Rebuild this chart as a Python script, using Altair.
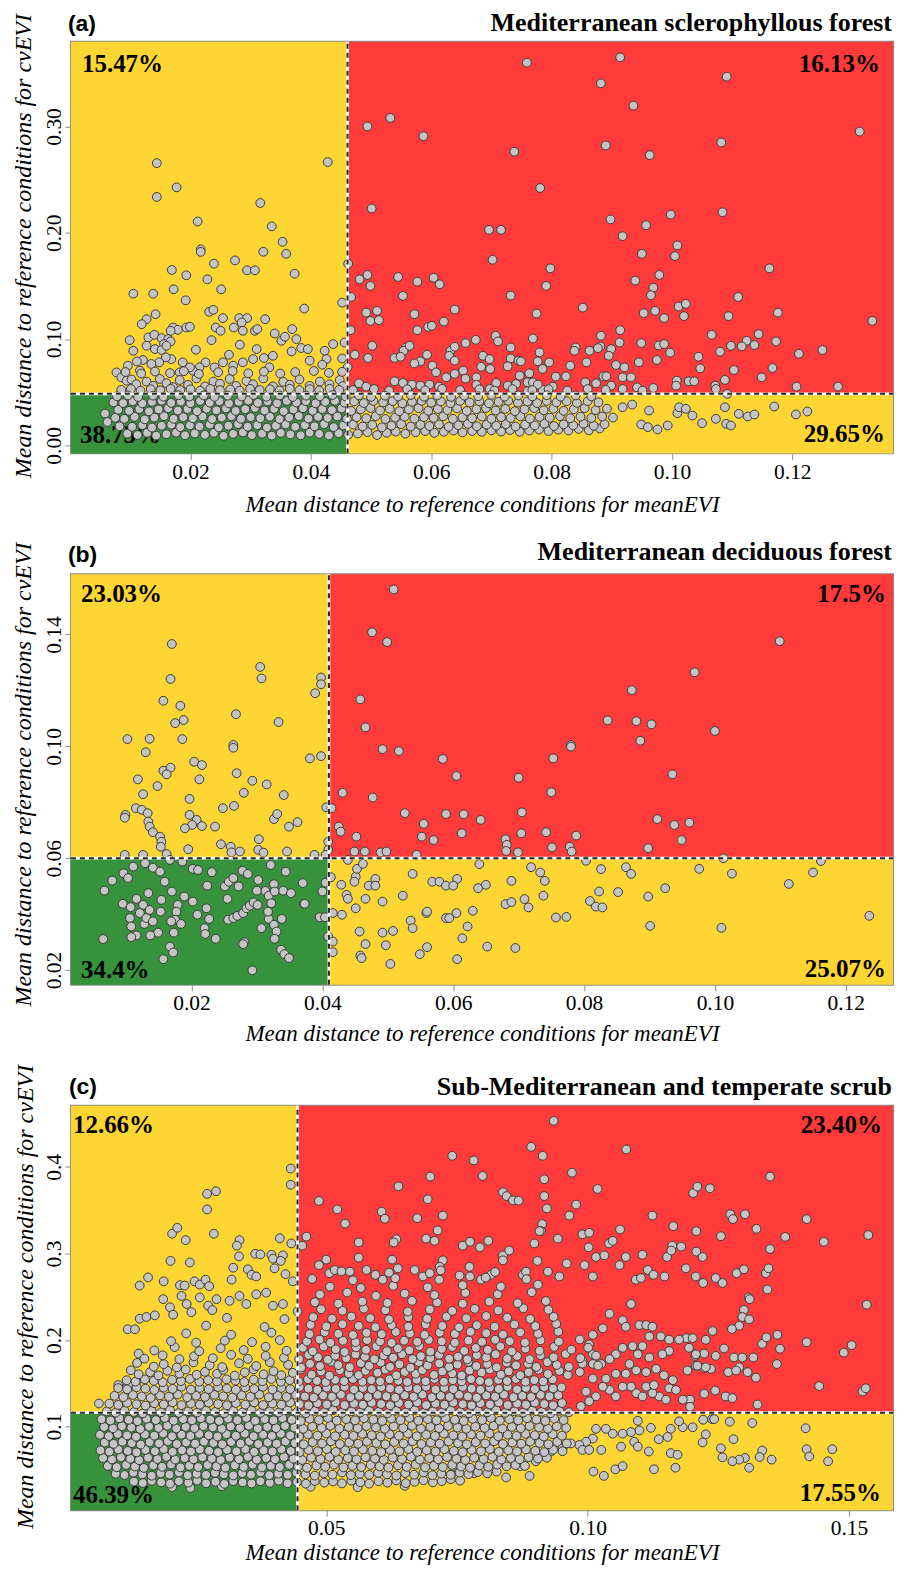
import altair as alt
import pandas as pd

UNIT = 1e-4  # every point below is stored as (x, y) in units of 0.0001

# ---------------- panel (a) ----------------
A_UPPER_RIGHT = [
(494,3000),(532,3080),(587,2908),(501,2228),(759,3600),(914,3650),(882,3405),(1091,3468),(936,3196),(1312,2952),(738,2762),(890,2821),(963,2730),(1082,2849),(781,2421),(898,2125),(957,2071),(998,2171),(1084,2193),(696,2027),(716,2027),(918,1968),(1009,1881),(1005,1780),(950,1802),(702,1746),(798,1665),(979,1603),(939,1550),(1162,1665),(791,1500),(969,1484),(965,1412),(732,1409),(1110,1396),(639,1278),(852,1296),(775,1240),(953,1244),(972,1265),(987,1197),(1011,1306),(1023,1331),(1020,1216),(1094,1216),(1176,1249),(1333,1171),(914,1084),(882,1031),(707,1031),(711,978),(674,993),(657,962),(769,1006),(1066,1040),(1144,1047),(1173,978),(1124,984),(1137,944),(1116,931),(1098,937),(1080,881),(1211,862),(1250,897),(1207,553),(1276,553),(1167,728),(1149,640),(1103,709),(1088,616),(1044,834),(1047,725),(997,872),(975,803),(945,781),(949,962),(978,940),(987,953),(913,968),(899,906),(895,843),(881,931),(877,915),(863,890),(858,781),(840,921),(838,890),(831,750),(824,650),(907,756),(921,734),(918,640),(932,640),(886,650),(891,650),(874,584),(856,593),(899,562),(918,531),(942,546),(969,540),(951,515),(1008,609),(1007,562),(1028,603),(1037,603),(1072,562),(1073,531),(1092,484),
(462,1709),(481,1562),(494,1603),(499,1500),(467,1396),(545,1584),(553,1406),(577,1540),(604,1577),(614,1515),(492,1249),(510,1265),(499,1171),(513,1178),(466,1084),(502,937),(495,822),(473,853),(572,1234),(577,1084),(595,1115),(601,1125),(621,1165),(558,921),(554,890),(564,937),(539,822),(549,834),(593,853),(582,790),(572,771),(602,750),(608,687),(632,890),(625,640),(480,584),(492,553),(539,603),(553,588),(568,572),(582,562),(597,572),(613,553),
(639,928),(630,843),(639,797),(653,703),(657,628),(639,672),(675,640),(675,569),(686,843),(697,812),(683,740),(698,719),(732,921),(732,818),(727,744),(745,797),(749,790),(747,656),(763,678),(760,593),(769,593),(780,874),(777,790),(785,719),(796,781),(807,647),(802,553),(727,562),(741,578),(708,588),(697,531),(760,509),(785,522),(777,572),
(470,520),(505,530),(530,515),(560,528),(590,518),(618,532),(648,520),(680,527),(705,515),(735,530),(768,520),(795,528),(826,516),(860,530),(890,522),
]
A_LOWER_RIGHT = [
(918,359),(934,384),(949,197),(960,172),(962,328),(976,150),(993,187),(1009,303),(1012,359),(1023,344),(1034,281),(1050,209),(1073,250),(1088,359),(1090,203),(1098,187),(1111,297),(1126,272),(1137,291),(1170,366),(1206,291),(1225,319),
]
A_UPPER_LEFT = [
(144,2655),(177,2427),(144,2337),(212,2106),(316,2280),(335,2060),(428,2665),(452,1343),
(217,1843),(217,1820),(274,1740),(239,1709),(321,1821),(353,1915),(359,1802),(294,1647),(307,1647),(169,1650),(193,1600),(228,1562),(373,1615),(172,1468),(251,1468),(105,1427),(138,1427),(192,1365),(231,1256),(238,1275),(142,1234),(127,1187),(119,1140),(254,1197),(281,1197),(294,1197),(285,1156),(324,1187),(389,1287),(242,1109),(250,1078),(272,1109),(287,1078),(307,1078),(311,1094),(171,1109),(179,1087),(167,1078),(193,1109),(199,1115),(369,1094),(235,990),(340,1053),(351,984),(357,1022),(376,1000),(99,990),(130,1015),(140,1040),(152,1009),(163,1000),(167,978),(156,953),(105,890),(127,937),(141,906),(152,897),(160,937),(209,900),(282,947),(310,906),(368,884),(384,916),(395,906),(423,890),(437,953),(426,812),(456,968),(452,818),(461,734),(419,759),(398,797),(337,843),(322,822),(331,734),(304,812),(287,781),(271,750),(264,853),(254,781),(240,734),(225,781),(215,734),(204,703),(187,781),(199,734),(182,687),(168,812),(159,828),(148,781),(135,766),(121,803),(111,790),(116,703),(96,750),(77,687),(85,640),(94,609),
(102,620),(110,575),(127,600),(138,560),(149,625),(160,585),(171,548),(182,615),(196,570),(210,630),(224,555),(238,600),(249,580),(265,625),(276,560),(293,605),(304,575),(321,630),(337,556),(354,598),(365,570),(381,620),(398,560),(415,600),(431,575),(448,615),(453,558),
(85,522),(101,530),(117,515),(134,528),(150,518),(167,532),(183,520),(200,527),(216,514),(233,531),(249,519),(266,526),(282,515),(299,532),(315,521),(332,528),(348,516),(365,533),(381,520),(398,529),(414,517),(431,532),(447,522),
(92,690),(118,676),(141,695),(166,680),(189,698),(214,672),(246,688),(270,700),(296,678),(322,694),(349,676),(374,690),(405,700),(430,682),(452,692),
]
A_BAND = [
(58,300),(62,220),
(95,110),(112,98),(128,118),(143,92),(160,105),(176,120),(191,95),(207,112),(224,100),(239,118),(255,90),(271,108),(287,122),(302,96),(319,110),(335,92),(350,117),(366,103),(383,95),(398,120),(414,108),(430,93),(446,115),(462,100),(478,112),(494,125),(510,98),(526,118),(541,130),(557,110),(574,124),(590,135),(605,118),(621,128),(637,140),(652,122),(668,135),(684,128),(700,142),(716,130),(731,145),(747,128),(763,140),(779,150),(795,135),(811,148),(828,140),(845,155),(862,142),(880,160),
(82,180),(103,175),(120,190),(136,168),(152,185),(168,195),(183,172),(199,188),(215,178),(232,196),(247,170),(263,185),(279,200),(295,176),(311,190),(327,168),(342,185),(358,198),(374,175),(390,190),(406,180),(422,200),(438,172),(454,188),(470,195),(486,178),(502,192),(518,170),(534,186),(550,200),(566,178),(582,195),(597,182),(613,198),(629,175),(645,190),(661,202),(676,180),(692,196),(708,185),(724,200),(740,178),(756,195),(772,188),(788,205),(804,182),(820,198),(836,190),(853,205),(870,185),(888,200),
(75,260),(90,250),(107,268),(124,245),(140,262),(156,275),(172,250),(188,265),(204,255),(220,272),(236,248),(252,262),(268,275),(284,250),(300,266),(316,255),(332,270),(348,248),(364,262),(380,276),(396,252),(412,268),(428,258),(444,272),(460,250),(476,265),(492,255),(508,275),(524,248),(540,262),(556,270),(572,252),(588,266),(604,258),(620,274),(636,250),(652,265),(668,256),(684,272),(700,250),(716,266),(732,258),(748,274),(764,252),(780,268),(797,260),(814,275),(831,255),(848,270),(866,258),(884,272),(902,262),
(80,335),(98,325),(115,342),(131,320),(147,338),(163,350),(179,328),(195,342),(211,322),(227,345),(243,330),(259,348),(275,325),(291,340),(307,352),(323,328),(339,344),(355,322),(371,338),(387,350),(403,326),(419,342),(435,332),(451,348),(467,324),(483,340),(499,352),(515,328),(531,344),(547,322),(563,338),(579,350),(595,326),(611,342),(627,332),(643,348),(659,324),(675,340),(691,352),(707,328),(723,344),(739,322),(755,338),(771,350),(787,330),(803,345),(820,325),(837,340),(855,350),(873,332),(892,345),
(72,405),(88,398),(104,415),(120,395),(136,410),(152,420),(168,400),(184,412),(200,396),(216,418),(232,402),(248,415),(264,395),(280,410),(296,422),(312,400),(328,414),(344,396),(360,418),(376,404),(392,416),(408,396),(424,410),(440,420),(456,402),(472,414),(488,398),(504,418),(520,404),(536,416),(552,396),(568,410),(584,420),(600,402),(616,414),(632,398),(648,418),(664,404),(680,416),(696,396),(712,410),(728,420),(744,402),(760,414),(776,398),(792,418),(808,404),(825,415),(842,400),(860,416),(878,405),
(78,462),(96,470),(113,455),(138,468),(155,458),(180,472),(198,460),(222,470),(240,456),(262,468),(285,460),(305,474),(326,458),(348,470),(370,456),(392,468),(415,462),(436,474),(458,460),(480,470),(500,456),(523,468),(545,460),(566,474),(588,458),(610,470),(633,456),(655,468),(678,462),(700,474),(722,458),(745,470),(768,460),(792,472),(815,458),(840,470),(866,462),
]

# ---------------- panel (b) ----------------
B_UPPER = [
(509,1561),(476,1408),(499,1373),(170,1366),(305,1284),(307,1243),(168,1241),(398,1246),(398,1222),(389,1190),(157,1163),(183,1145),(458,1168),(268,1115),(188,1094),(175,1083),(333,1087),(466,1068),(102,1026),(136,1027),(186,1026),(264,1005),
(1099,1376),(969,1265),(873,1201),(836,1093),(880,1090),(903,1079),(1000,1055),(886,1020),(780,1005),
(130,979),(264,995),(381,957),(398,965),(204,945),(216,933),(157,913),(168,924),(162,900),(118,882),(212,882),(269,904),(293,877),(315,864),(148,858),(126,829),(280,834),(341,826),(197,812),(431,834),(477,817),(115,779),(124,773),(133,761),(99,755),(98,745),(134,731),(136,713),(141,693),(152,677),(154,659),(153,641),(197,755),(208,737),(201,719),(190,707),(216,715),(248,779),(265,787),(236,713),(326,740),(331,758),(349,713),(362,729),(406,782),(414,779),(425,713),(428,695),(452,677),(526,761),(555,723),(552,677),(570,665),(589,758),(409,659),(409,630),(245,650),(260,641),(274,624),(261,621),(303,668),(302,630),(310,620),(346,624),(195,632),(98,612),(126,612),(162,615),(388,612),(405,612),(439,594),(449,624),(465,624),(489,621),(498,624),(544,612),
(492,990),(517,983),(584,955),
(780,999),(753,957),(605,894),(700,888),(935,900),(750,836),(616,757),(642,737),(705,764),(912,740),(938,719),(961,727),(613,689),(704,689),(742,693),(788,681),(680,668),(682,648),(681,626),(699,621),(751,639),(778,641),(781,624),(949,665),(898,636),(1013,600),(1162,590),(803,591),
]
B_LOWER = [
(111,570),(96,546),(103,529),(79,520),(67,484),(129,582),(141,566),(152,552),(159,516),(170,481),(167,594),(186,588),(202,562),(210,558),(231,550),(224,502),(251,499),(257,516),(264,529),(272,499),(278,555),(286,544),(302,522),(300,484),(321,576),(344,552),(340,484),(352,475),(370,511),(372,437),(400,481),(405,513),(326,507),(313,483),(318,466),(322,439),(327,481),
(95,437),(107,425),(116,455),(126,433),(134,475),(121,404),(106,386),(108,356),(116,324),(108,318),(128,365),(131,386),(136,415),(141,374),(149,334),(137,324),(153,409),(154,451),(179,433),(177,409),(175,380),(169,374),(173,334),(184,365),(189,463),(202,445),(209,398),(223,421),(227,383),(220,350),(221,329),(237,312),(255,455),(256,380),(264,386),(270,394),(279,404),(284,421),(289,430),(295,442),(301,433),(307,350),(281,300),(279,293),(318,383),(317,409),(326,362),(330,338),(327,312),(338,383),(337,273),(342,257),(349,243),(373,437),(396,389),(404,389),(409,320),(167,284),(172,263),(157,239),(65,311),(293,199),
(413,532),(416,404),(430,398),(429,505),(437,469),(439,455),(451,534),(449,516),(453,562),(462,580),(451,421),(466,455),(471,502),(481,526),(481,502),(492,445),(523,466),(538,544),(568,516),(579,516),(589,502),(559,404),(535,377),(538,350),(457,338),(492,334),(508,340),(466,293),(497,289),(458,252),(460,243),(504,222),(549,257),(560,282),(589,386),(416,302),(416,264),(560,409),
(640,579),(719,568),(733,549),(740,519),(738,466),(826,561),(864,568),(872,544),(976,562),(1026,545),(1150,549),(1113,508),(606,526),(600,502),(638,493),(650,505),(689,519),(709,454),(715,424),(680,436),(689,443),(823,481),(809,447),(818,427),(828,424),(852,479),(898,463),(924,493),(630,412),(605,404),(594,386),(622,356),(614,314),(606,239),(652,284),(695,279),(757,388),(773,390),(901,358),(1010,351),(1236,394),
]

# ---------------- panel (c) ----------------
C_SPARSE = [
(935,4532),(1074,4202),(892,4232),(914,4128),(741,4128),(782,4075),(799,3895),(970,3933),(917,3857),(1349,3888),(1019,3745),(838,3708),(845,3663),(857,3614),(868,3610),(917,3663),(978,3565),(922,3520),(1202,3697),(1210,3772),(1234,3753),(965,3438),(1124,3438),(1164,3315),(1273,3453),(1278,3397),(1301,3453),(1419,3397),(1537,3213),(1452,3135),(1378,3191),(1323,3285),(1255,3199),(1208,3258),(1349,3052),(1062,3277),(990,3221),(1003,3239),(913,3340),(911,3258),(943,3172),(898,3116),(810,3146),(761,3090),(775,3135),(794,3071),(1162,3090),(1041,3116),(1048,3146),(1002,3071),(1016,2959),(1032,2978),(1061,2865),(1073,2959),(1105,2985),(1152,2959),(1160,3034),(1179,3079),(1208,3022),(1220,2959),(1285,2772),(1299,2817),(1341,2772),(1346,2828),(1188,2828),(1207,2734),(1221,2659),(1245,2716),(1258,2659),(1115,2809),(1126,2753),(1147,2734),(1092,2697),(1102,2716),
(755,2745),(774,2846),(775,2734),(796,2697),(815,2753),(838,2978),(850,3034),(838,2921),(876,2753),(882,2790),(904,2914),(924,2790),(946,2734),(960,2884),(994,2865),(1010,2734),(908,3258),
(1534,2408),(1419,1974),(1490,1854),(1505,1940),(1443,1468),(1526,1404),(1532,1442),(1363,2060),(1368,1899),(1362,1722),(1334,1955),(1342,2030),(1308,2491),(1310,2472),(1344,2584),(1299,2348),(1296,2266),(1309,2239),(1290,2165),(1276,2127),(1261,1902),(1245,1817),(1280,1798),(1296,1798),(1290,1685),(1317,1798),(1306,1629),(1322,1565),(1269,1629),(1284,1648),(1264,1348),(1277,1329),(1325,1255),(1226,2003),(1239,2104),(1223,1843),(1236,1666),(1223,1678),(1207,1704),(1191,1648),(1206,1817),(1244,1416),(1223,1379),(1196,1311),(1196,1228),(1189,2022),(1201,2022),
(1417,981),(1419,738),(1424,655),(1468,738),(1460,599),(1238,1086),(1315,1041),(1334,723),(1352,618),(1329,648),(1309,524),(1301,637),(1290,618),(1279,854),(1277,599),(1258,644),(1255,749),(1272,1056),(1242,1086),(1221,1079),(1226,910),(1220,817),(1182,992),(1201,992),(1175,1060),(1159,974),(1153,880),(1159,693),(1172,674),(1168,524),(1127,506),(1117,712),(1136,854),(1121,985),(1096,1067),(1099,955),(1083,936),(1089,824),(1067,918),(1064,768),(1048,918),(1035,974),(1016,974),(1010,861),(997,824),(984,787),(990,730),(968,805),(952,749),(930,712),(911,674),(901,599),(871,543),(889,430),(844,412),(783,461),(739,449),(742,543),(1011,480),(1031,430),(1053,506),(1067,543),(1026,730),(1003,730),(1096,768),
(1083,2416),(1067,2228),(1042,2303),(1073,2153),(1029,2135),(1010,2060),(1099,2172),(1112,2172),(1124,2153),(1118,2041),(1140,2041),(1156,2004),(1175,2004),(1194,1910),(1207,1835),(1210,1704),(1226,1685),(1156,1873),(1143,1835),(1118,1798),(1105,1929),(1086,1929),(1096,1835),(1067,1910),(1054,1835),(1042,1779),(1026,1723),(1010,1835),(1003,1948),(1080,1723),(1073,1610),(1093,1648),(1112,1629),(1131,1667),(1146,1592),(1163,1536),(1156,1442),(1137,1348),(1124,1386),(1112,1461),(1093,1386),(1083,1461),(1067,1461),(1054,1348),(1042,1423),(1029,1461),(1016,1348),(1003,1292),(987,1236),(997,1404),(1010,1554),(1035,1554),(1054,1610),(1010,1723),(990,1761),(1182,1311),(1169,1423),(1150,1311),(1127,1479),(1105,1348),
(432,3981),(432,3794),(272,3689),(289,3719),(272,3509),(285,3228),(205,3228),(215,3296),(231,3154),(334,3154),(329,3090),(333,2966),(364,2996),(374,2989),(411,3176),(395,2985),(398,2940),(417,2978),(433,3116),(454,3090),(462,3195),(202,2914),(239,2896),(159,2723),(189,2678),(322,2835),(350,2817),(357,2753),(366,2734),(401,2828),(413,2914),(422,2761),(319,2697),(248,2678),(258,2640),(269,2697),(276,2622),(220,2633),(229,2629),(143,2629),(436,2678),
(486,3607),(521,3509),(536,3345),(606,3483),(612,3401),(638,3775),(699,3888),(694,3626),(674,3408),(723,3438),(713,3266),(691,3172),(707,3146),(634,3165),(629,3127),(562,3127),(562,2952),(626,2929),(637,2828),(500,2929),(486,2865),(506,2772),(516,2809),(545,2790),(577,2809),(594,2753),(608,2697),(669,2809),(685,2734),(698,2772),(723,2921),(717,2846),
(65,1266),(102,1480),(121,1480),(137,1517),(120,2124),(134,2124),(141,1843),(143,2247),(156,2266),(172,2285),(188,2472),(201,2378),(207,2292),(223,2509),(233,2416),(242,2322),(258,2491),(274,2397),(290,2472),(315,2453),(334,2509),(347,2416),(366,2528),(385,2547),(398,2397),(417,2416),
]
C_CORE = [
(205,300),(240,290),(300,310),(470,305),(560,300),(650,315),
(132,365),(149,348),(166,372),(184,355),(201,340),(218,368),(236,352),(253,376),(270,345),(288,362),(305,338),(322,370),(340,355),(357,342),(374,368),(392,350),(409,375),(426,345),(444,360),(461,340),(478,372),(496,352),(513,366),(530,343),(548,375),(565,356),(582,340),(600,368),(617,352),(634,378),(652,346),(669,362),(686,380),(704,355),(721,370),(738,392),(756,375),
(97,455),(114,440),(131,468),(148,447),(166,432),(183,460),(200,445),(218,470),(235,438),(252,455),(270,442),(287,466),(304,448),(322,435),(339,462),(356,444),(374,470),(391,438),(408,456),(426,442),(443,468),(460,447),(478,433),(495,460),(512,445),(530,470),(547,438),(564,455),(582,442),(599,466),(616,448),(634,435),(651,462),(668,444),(686,470),(703,438),(720,456),(738,442),(755,468),(772,450),(790,475),(808,460),(826,480),
(82,545),(99,530),(117,556),(134,538),(151,522),(169,550),(186,535),(203,560),(221,528),(238,546),(255,532),(273,556),(290,540),(307,525),(325,552),(342,534),(359,560),(377,528),(394,546),(411,532),(429,558),(446,538),(463,524),(481,550),(498,535),(515,560),(533,528),(550,546),(567,532),(585,556),(602,540),(619,525),(637,552),(654,534),(671,560),(689,528),(706,546),(723,532),(741,558),(758,538),(775,524),(793,550),(810,535),(827,560),(845,540),(862,555),(880,545),
(73,636),(90,620),(107,645),(125,628),(142,612),(159,640),(177,625),(194,650),(211,618),(229,636),(246,622),(263,646),(281,630),(298,615),(315,642),(333,624),(350,650),(367,618),(385,636),(402,622),(419,648),(437,628),(454,614),(471,640),(489,625),(506,650),(523,618),(541,636),(558,622),(575,646),(593,630),(610,615),(627,642),(645,624),(662,650),(679,618),(697,636),(714,622),(731,648),(749,628),(766,614),(783,640),(801,625),(818,650),(835,618),(853,636),(870,622),(887,646),(905,630),(922,640),
(68,725),(85,710),(102,735),(120,718),(137,702),(154,730),(172,715),(189,740),(206,708),(224,726),(241,712),(258,736),(276,720),(293,705),(310,732),(328,714),(345,740),(362,708),(380,726),(397,712),(414,738),(432,718),(449,704),(466,730),(484,715),(501,740),(518,708),(536,726),(553,712),(570,736),(588,720),(605,705),(622,732),(640,714),(657,740),(674,708),(692,726),(709,712),(726,738),(744,718),(761,704),(778,730),(796,715),(813,740),(830,708),(848,726),(865,712),(882,736),(900,720),(917,705),(934,732),(952,715),
(76,815),(93,800),(110,825),(128,808),(145,792),(162,820),(180,805),(197,830),(214,798),(232,816),(249,802),(266,826),(284,810),(301,795),(318,822),(336,804),(353,830),(370,798),(388,816),(405,802),(422,828),(440,808),(457,794),(474,820),(492,805),(509,830),(526,798),(544,816),(561,802),(578,826),(596,810),(613,795),(630,822),(648,804),(665,830),(682,798),(700,816),(717,802),(734,828),(752,808),(769,794),(786,820),(804,805),(821,830),(838,798),(856,816),(873,802),(890,826),(908,810),(925,795),(942,822),(960,805),
(67,905),(84,890),(101,915),(119,898),(136,882),(153,910),(171,895),(188,920),(205,888),(223,906),(240,892),(257,916),(275,900),(292,885),(309,912),(327,894),(344,920),(361,888),(379,906),(396,892),(413,918),(431,898),(448,884),(465,910),(483,895),(500,920),(517,888),(535,906),(552,892),(569,916),(587,900),(604,885),(621,912),(639,894),(656,920),(673,888),(691,906),(708,892),(725,918),(743,898),(760,884),(777,910),(795,895),(812,920),(829,888),(847,906),(864,892),(881,916),(899,900),(916,885),(933,912),(951,895),
(75,995),(92,980),(109,1005),(127,988),(144,972),(161,1000),(179,985),(196,1010),(213,978),(231,996),(248,982),(265,1006),(283,990),(300,975),(317,1002),(335,984),(352,1010),(369,978),(387,996),(404,982),(421,1008),(439,988),(456,974),(473,1000),(491,985),(508,1010),(525,978),(543,996),(560,982),(577,1006),(595,990),(612,975),(629,1002),(647,984),(664,1010),(681,978),(699,996),(716,982),(733,1008),(751,988),(768,974),(785,1000),(803,985),(820,1010),(837,978),(855,996),(872,982),(889,1006),(907,990),(924,975),(941,1002),(959,985),
(70,1085),(87,1070),(104,1095),(122,1078),(139,1062),(156,1090),(174,1075),(191,1100),(208,1068),(226,1086),(243,1072),(260,1096),(278,1080),(295,1065),(312,1092),(330,1074),(347,1100),(364,1068),(382,1086),(399,1072),(416,1098),(434,1078),(451,1064),(468,1090),(486,1075),(503,1100),(520,1068),(538,1086),(555,1072),(572,1096),(590,1080),(607,1065),(624,1092),(642,1074),(659,1100),(676,1068),(694,1086),(711,1072),(728,1098),(746,1078),(763,1064),(780,1090),(798,1075),(815,1100),(832,1068),(850,1086),(867,1072),(884,1096),(902,1080),(919,1065),(936,1092),(954,1075),
(80,1175),(97,1160),(114,1185),(132,1168),(149,1152),(166,1180),(184,1165),(201,1190),(218,1158),(236,1176),(253,1162),(270,1186),(288,1170),(305,1155),(322,1182),(340,1164),(357,1190),(374,1158),(392,1176),(409,1162),(426,1188),(444,1168),(461,1154),(478,1180),(496,1165),(513,1190),(530,1158),(548,1176),(565,1162),(582,1186),(600,1170),(617,1155),(634,1182),(652,1164),(669,1190),(686,1158),(704,1176),(721,1162),(738,1188),(756,1168),(773,1154),(790,1180),(808,1165),(825,1190),(842,1158),(860,1176),(877,1162),(894,1186),(912,1170),(929,1155),(946,1182),(964,1165),
(85,1265),(102,1250),(119,1275),(137,1258),(154,1242),(171,1270),(189,1255),(206,1280),(223,1248),(241,1266),(258,1252),(275,1276),(293,1260),(310,1245),(327,1272),(345,1254),(362,1280),(379,1248),(397,1266),(414,1252),(431,1278),(449,1258),(466,1244),(483,1270),(501,1255),(518,1280),(535,1248),(553,1266),(570,1252),(587,1276),(605,1260),(622,1245),(639,1272),(657,1254),(674,1280),(691,1248),(709,1266),(726,1252),(743,1278),(761,1258),(778,1244),(795,1270),(813,1255),(830,1280),(847,1248),(865,1266),(882,1252),(899,1276),(917,1260),(934,1245),(951,1272),
(95,1355),(112,1340),(130,1365),(147,1348),(164,1332),(182,1360),(199,1345),(216,1370),(234,1338),(251,1356),(268,1342),(286,1366),(303,1350),(320,1335),(338,1362),(355,1344),(372,1370),(390,1338),(407,1356),(424,1342),(442,1368),(459,1348),(476,1334),(494,1360),(511,1345),(528,1370),(546,1338),(563,1356),(580,1342),(598,1366),(615,1350),(632,1335),(650,1362),(667,1344),(684,1370),(702,1338),(719,1356),(736,1342),(754,1368),(771,1348),(788,1334),(806,1360),(823,1345),(840,1370),(858,1338),(875,1356),(892,1342),(910,1366),(927,1350),(944,1362),
(102,1445),(119,1430),(137,1455),(154,1438),(171,1422),(189,1450),(206,1435),(223,1460),(241,1428),(258,1446),(275,1432),(293,1456),(310,1440),(327,1425),(345,1452),(362,1434),(379,1460),(397,1428),(414,1446),(431,1432),(449,1458),(466,1438),(483,1424),(501,1450),(518,1435),(535,1460),(553,1428),(570,1446),(587,1432),(605,1456),(622,1440),(639,1425),(657,1452),(674,1434),(691,1460),(709,1428),(726,1446),(743,1432),(761,1458),(778,1438),(795,1424),(813,1450),(830,1435),(847,1460),(865,1428),(882,1446),(899,1432),(917,1456),(934,1440),(950,1452),
(118,1535),(135,1520),(153,1545),(170,1528),(187,1512),(205,1540),(222,1525),(239,1550),(257,1518),(274,1536),(291,1522),(309,1546),(326,1530),(343,1515),(361,1542),(378,1524),(395,1550),(413,1518),(430,1536),(447,1522),(465,1548),(482,1528),(499,1514),(517,1540),(534,1525),(551,1550),(569,1518),(586,1536),(603,1522),(621,1546),(638,1530),(655,1515),(673,1542),(690,1524),(707,1550),(725,1518),(742,1536),(759,1522),(777,1548),(794,1528),(811,1514),(829,1540),(846,1525),(863,1550),(881,1518),(898,1536),(915,1522),(933,1546),
]
C_UPPER = [
(126,1650),(141,1604),(163,1628),(179,1591),(196,1645),(219,1612),(231,1659),(252,1598),(268,1632),(291,1610),(303,1655),(325,1589),(344,1627),(361,1661),(380,1603),(399,1639),(414,1594),(436,1620),(451,1657),(472,1600),(490,1636),(506,1588),(526,1650),(543,1613),(562,1595),(575,1644),(598,1622),(613,1658),(634,1592),(650,1631),(671,1609),(684,1652),(706,1597),(722,1637),(741,1614),(759,1590),(774,1648),(797,1625),(813,1660),(834,1601),(849,1638),(871,1593),(887,1629),(906,1656),(924,1607),(946,1643),(962,1596),(985,1630),
(138,1735),(170,1692),(189,1721),(214,1684),(246,1742),(277,1709),(301,1688),(333,1731),(366,1700),(392,1744),(427,1713),(452,1682),(469,1725),(488,1698),(509,1748),(523,1710),(545,1686),(566,1733),(582,1702),(604,1741),(622,1690),(640,1719),(661,1680),(677,1745),(694,1706),(716,1729),(735,1688),(751,1716),(772,1747),(787,1699),(808,1724),(826,1684),(845,1739),(863,1707),(886,1726),(902,1689),(923,1744),(941,1712),(964,1690),(990,1728),(1020,1705),
(152,1785),(187,1823),(219,1779),(247,1812),(283,1790),(318,1829),(350,1782),(384,1816),(419,1795),(448,1778),(466,1828),(484,1801),(503,1773),(517,1819),(538,1790),(556,1833),(574,1807),(592,1778),(610,1822),(628,1796),(645,1836),(665,1780),(681,1813),(699,1791),(716,1830),(735,1784),(752,1808),(770,1776),(788,1826),(806,1798),(824,1835),(846,1786),(865,1815),(889,1778),(910,1824),(935,1800),(958,1838),(986,1790),(1016,1820),
(171,1880),(210,1918),(257,1871),(298,1906),(342,1884),(384,1922),(424,1876),(455,1910),(474,1870),(495,1925),(518,1893),(535,1862),(557,1915),(576,1886),(596,1928),(616,1871),(637,1903),(659,1881),(678,1930),(699,1866),(721,1897),(741,1919),(764,1875),(786,1908),(809,1887),(833,1926),(855,1869),(881,1900),(908,1876),(936,1921),(969,1889),(1001,1912),
(203,1986),(251,1970),(306,1994),(358,1976),(411,1999),(463,1982),(487,2005),(508,1968),(532,1991),(556,1975),(578,1999),(603,1983),(625,1967),(649,1992),(674,1978),(696,2001),(721,1985),(746,1969),(772,1994),(798,1979),(823,2003),(851,1986),(880,1971),(910,1996),(945,1981),(985,2006),
(232,2076),(318,2061),(395,2085),(468,2068),(497,2091),(523,2072),(551,2058),(577,2083),(606,2067),(633,2093),(660,2075),(688,2060),(717,2086),(746,2070),(776,2095),(806,2079),(838,2063),(871,2088),(905,2072),(944,2097),
(270,2166),(382,2151),(470,2175),(500,2157),(531,2182),(562,2163),(594,2148),(625,2172),(657,2155),(690,2180),(722,2162),(754,2146),(788,2171),(822,2154),(860,2179),(900,2161),(940,2186),
(310,2256),(420,2242),(475,2264),(511,2247),(548,2271),(584,2253),(620,2238),(657,2262),(693,2246),(730,2270),(768,2252),(806,2277),(846,2259),(890,2243),(935,2268),
(282,2346),(445,2331),(490,2355),(531,2338),(572,2362),(613,2344),(656,2329),(698,2353),(741,2336),(784,2360),(829,2342),(877,2367),(925,2349),
(478,2436),(523,2421),(569,2445),(617,2428),(664,2452),(712,2434),(761,2419),(812,2443),(866,2426),(920,2450),
(488,2526),(540,2549),(595,2511),(650,2536),(707,2520),(766,2544),(828,2528),(893,2552),
(507,2616),(566,2601),(628,2626),(694,2609),(761,2633),(834,2617),(905,2640),
(473,2706),(551,2690),(632,2714),(716,2697),(805,2721),(883,2703),
(529,2793),(620,2779),(719,2804),(823,2786),
]

# ---------------- panel settings ----------------
PANEL_TAGS = ["(a)", "(b)", "(c)"]
PANEL_NAMES = ["Mediterranean sclerophyllous forest", "Mediterranean deciduous forest",
               "Sub-Mediterranean and temperate scrub"]
X_DOMAINS = [[0.000133, 0.13673], [0.001573, 0.12722], [0.001147, 0.15842]]
Y_DOMAINS = [[-0.0075, 0.37957], [0.01475, 0.16154], [0.00337, 0.47079]]
X_THRESH = [0.0461, 0.0410, 0.0445]
Y_THRESH = [0.0485, 0.0600, 0.1160]
PCT_TL = ["15.47%", "23.03%", "12.66%"]
PCT_TR = ["16.13%", "17.5%", "23.40%"]
PCT_BL = ["38.75%", "34.4%", "46.39%"]
PCT_BR = ["29.65%", "25.07%", "17.55%"]
X_TICKS = [[0.02, 0.04, 0.06, 0.08, 0.10, 0.12], [0.02, 0.04, 0.06, 0.08, 0.10, 0.12], [0.05, 0.10, 0.15]]
Y_TICKS = [[0.0, 0.1, 0.2, 0.3], [0.02, 0.06, 0.10, 0.14], [0.1, 0.2, 0.3, 0.4]]
Y_FORMATS = [".2f", ".2f", ".1f"]
X_TITLE = "Mean distance to reference conditions for meanEVI"
Y_TITLE = "Mean distance to reference conditions for cvEVI"

# ---------------- style ----------------
YELLOW, RED, GREEN = "#FDD633", "#FE3A3A", "#36923B"
SERIF, SANS = "Liberation Serif", "Liberation Sans"
LAYOUT = [
    dict(w=823, h=412, xty=58, lpad=2, ytx=-40, yty=204, tag=(-3, -11), name=(-1, -11),
         tl=(11, 30), tr=(-13, 30), bl=(9, -10), br=(-8, -11)),
    dict(w=823, h=411, xty=56, lpad=2, ytx=-40, yty=200, tag=(-3, -12), name=(-1, -14),
         tl=(10, 28), tr=(-7, 28), bl=(10, -7), br=(-7, -8)),
    dict(w=823, h=405, xty=49, lpad=1, ytx=-38, yty=191, tag=(-2, -12), name=(-1, -11),
         tl=(2, 27), tr=(-11, 27), bl=(2, -7), br=(-12, -9)),
]


def panel(i, pts):
    L = LAYOUT[i]
    xd, yd = X_DOMAINS[i], Y_DOMAINS[i]
    xt, yt = X_THRESH[i], Y_THRESH[i]
    xs = alt.Scale(domain=xd, nice=False, zero=False)
    ys = alt.Scale(domain=yd, nice=False, zero=False)
    xaxis = alt.Axis(values=X_TICKS[i], format=".2f", title=X_TITLE, titleY=L["xty"],
                     titleBaseline="alphabetic", titleAlign="center", titleFontSize=23,
                     labelPadding=L["lpad"], tickSize=6, labelFlush=False, labelOverlap=False)
    yaxis = alt.Axis(values=Y_TICKS[i], format=Y_FORMATS[i], title=Y_TITLE,
                     titleX=L["ytx"], titleY=L["yty"], titleAngle=270, titleAlign="center",
                     titleBaseline="alphabetic", titleFontSize=24, labelAngle=270,
                     labelAlign="center", labelBaseline="alphabetic", labelPadding=4,
                     tickSize=6, labelFlush=False, labelOverlap=False)

    def X(f):
        return alt.X(f, type="quantitative", scale=xs, axis=xaxis)

    def Y(f):
        return alt.Y(f, type="quantitative", scale=ys, axis=yaxis)

    quad = pd.DataFrame({
        "x": [xd[0], xt, xd[0], xt],
        "x2": [xt, xd[1], xt, xd[1]],
        "y": [yt, yt, yd[0], yd[0]],
        "y2": [yd[1], yd[1], yt, yt],
        "c": [YELLOW, RED, GREEN, YELLOW],
    })
    layers = [alt.Chart(quad).mark_rect().encode(
        x=X("x"), x2="x2:Q", y=Y("y"), y2="y2:Q", color=alt.Color("c:N", scale=None))]

    corners = [
        (xd[0], yd[1], PCT_TL[i], "left", L["tl"]),
        (xd[1], yd[1], PCT_TR[i], "right", L["tr"]),
        (xd[0], yd[0], PCT_BL[i], "left", L["bl"]),
        (xd[1], yd[0], PCT_BR[i], "right", L["br"]),
    ]
    for cx, cy, t, al, (dx, dy) in corners:
        df = pd.DataFrame({"x": [cx], "y": [cy], "t": [t]})
        layers.append(alt.Chart(df).mark_text(
            align=al, baseline="alphabetic", dx=dx, dy=dy, font=SERIF, fontSize=25,
            fontWeight="bold", color="black").encode(x=X("x"), y=Y("y"), text="t:N"))

    dfp = pd.DataFrame(pts, columns=["x", "y"]) * UNIT
    layers.append(alt.Chart(dfp).mark_circle(
        size=78, fill="#C4C4C4", stroke="#3a3a3a", strokeWidth=1, opacity=1, clip=True
    ).encode(x=X("x"), y=Y("y")))

    vdf = pd.DataFrame({"x": [xt], "y": [yd[0]], "y2": [yd[1]]})
    hdf = pd.DataFrame({"y": [yt], "x": [xd[0]], "x2": [xd[1]]})
    for color, sw, dash in [("white", 2.8, None), ("#262626", 2.0, [5, 4])]:
        kw = dict(color=color, strokeWidth=sw)
        if dash:
            kw["strokeDash"] = dash
        layers.append(alt.Chart(vdf).mark_rule(**kw).encode(x=X("x"), y=Y("y"), y2="y2:Q"))
        layers.append(alt.Chart(hdf).mark_rule(**kw).encode(y=Y("y"), x=X("x"), x2="x2:Q"))

    tdf = pd.DataFrame({"x": [xd[0]], "y": [yd[1]], "t": [PANEL_TAGS[i]]})
    layers.append(alt.Chart(tdf).mark_text(
        align="left", baseline="alphabetic", dx=L["tag"][0], dy=L["tag"][1], font=SANS,
        fontSize=23, fontWeight="bold", color="black").encode(x=X("x"), y=Y("y"), text="t:N"))
    ndf = pd.DataFrame({"x": [xd[1]], "y": [yd[1]], "t": [PANEL_NAMES[i]]})
    layers.append(alt.Chart(ndf).mark_text(
        align="right", baseline="alphabetic", dx=L["name"][0], dy=L["name"][1], font=SERIF,
        fontSize=26, fontWeight="bold", color="black").encode(x=X("x"), y=Y("y"), text="t:N"))

    return alt.layer(*layers).properties(width=L["w"], height=L["h"])


pa = panel(0, A_UPPER_RIGHT + A_LOWER_RIGHT + A_UPPER_LEFT + A_BAND)
pb = panel(1, B_UPPER + B_LOWER)
pc = panel(2, C_SPARSE + C_CORE + C_UPPER)

chart = alt.vconcat(pa, pb, pc, spacing=121, bounds="flush").properties(
    padding={"left": 2, "top": 0, "right": 0, "bottom": 0}
).configure_view(
    stroke="#8c8c8c", strokeWidth=2
).configure_axis(
    labelFont=SERIF, labelFontSize=21.5, labelColor="black",
    titleFont=SERIF, titleFontStyle="italic", titleFontWeight="normal",
    titleColor="black", tickColor="#8c8c8c", tickWidth=1, domain=False, grid=False,
)

chart.save("out.html", embed_options={"renderer": "svg", "actions": False})
